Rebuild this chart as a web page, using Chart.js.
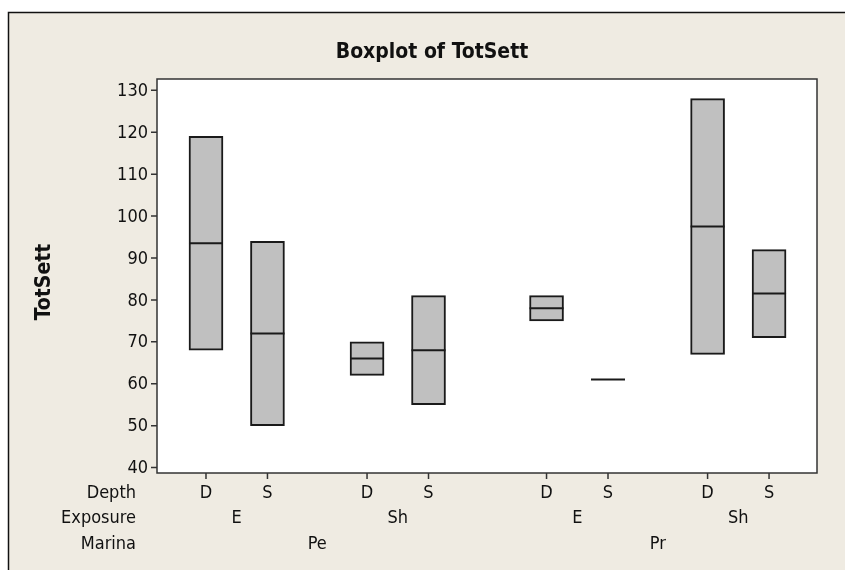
<!DOCTYPE html>
<html lang="en">
<head>
    <meta charset="UTF-8">
    <title>Boxplot of TotSett</title>
    <script src="https://cdn.jsdelivr.net/npm/chart.js"></script>
    <style>
        body { margin: 0; background: #fff; }
        #wrap { width: 845px; height: 570px; }
    </style>
</head>
<body>
    <div id="wrap"><canvas id="boxChart"></canvas></div>

    <script>
        // Grouping labels, one entry per box (left to right)
        const depth    = ['D', 'S', 'D', 'S', 'D', 'S', 'D', 'S'];
        const exposure = ['E', 'E', 'Sh', 'Sh', 'E', 'E', 'Sh', 'Sh'];
        const marina   = ['Pe', 'Pe', 'Pe', 'Pe', 'Pr', 'Pr', 'Pr', 'Pr'];

        // Box values
        const q1     = [68, 50, 62, 55, 75, 61, 67, 71];
        const median = [93.5, 72, 66, 68, 78, 61, 97.5, 81.5];
        const q3     = [119, 94, 70, 81, 81, 61, 128, 92];

        const yTicks = [40, 50, 60, 70, 80, 90, 100, 110, 120, 130];

        const FONT = "'DejaVu Sans Condensed', 'DejaVu Sans', sans-serif";
        const BG = '#EFEBE2';

        // Minitab leaves a wider gap between exposure groups and marinas
        const exposureGap = 0.62;
        const marinaGap = 0.3;
        function slot(i) {
            return i + exposureGap * Math.floor(i / 2) + marinaGap * Math.floor(i / 4);
        }

        const boxes = q1.map((v, i) => ({ x: slot(i), y: [v, q3[i]] }));
        const medians = median.map((v, i) => ({ x: slot(i), y: v }));

        // Frame, plot background, axes, ticks and labels
        const decor = {
            id: 'decor',
            beforeDraw(chart) {
                const { ctx, chartArea: a } = chart;
                ctx.save();
                ctx.fillStyle = '#fff';
                ctx.fillRect(0, 0, chart.width, chart.height);
                ctx.fillStyle = BG;
                ctx.fillRect(8, 12, chart.width, chart.height);
                ctx.strokeStyle = '#111';
                ctx.lineWidth = 1.5;
                ctx.beginPath();
                ctx.moveTo(8.5, chart.height);
                ctx.lineTo(8.5, 12.5);
                ctx.lineTo(chart.width, 12.5);
                ctx.stroke();
                ctx.fillStyle = '#fff';
                ctx.fillRect(a.left, a.top, a.right - a.left, a.bottom - a.top);
                ctx.restore();
            },
            afterDraw(chart) {
                const { ctx, chartArea: a } = chart;
                const xs = chart.scales.x, ys = chart.scales.y;
                ctx.save();
                ctx.strokeStyle = '#333';
                ctx.lineWidth = 1.5;
                ctx.strokeRect(a.left, a.top, a.right - a.left, a.bottom - a.top);

                // y ticks
                ctx.fillStyle = '#111';
                ctx.font = '18px ' + FONT;
                ctx.textAlign = 'right';
                ctx.textBaseline = 'middle';
                ctx.beginPath();
                yTicks.forEach(t => {
                    const y = ys.getPixelForValue(t);
                    ctx.moveTo(a.left - 6, y);
                    ctx.lineTo(a.left, y);
                    ctx.fillText(String(t), a.left - 9, y + 1);
                });
                // x ticks
                depth.forEach((d, i) => {
                    const x = xs.getPixelForValue(slot(i));
                    ctx.moveTo(x, a.bottom);
                    ctx.lineTo(x, a.bottom + 6);
                });
                ctx.stroke();

                // x label rows
                const rowY = [493, 518, 544];
                ctx.textAlign = 'right';
                ctx.fillText('Depth', 136, rowY[0]);
                ctx.fillText('Exposure', 136, rowY[1]);
                ctx.fillText('Marina', 136, rowY[2]);
                ctx.textAlign = 'center';
                depth.forEach((d, i) => {
                    ctx.fillText(d, xs.getPixelForValue(slot(i)), rowY[0]);
                });
                for (let i = 0; i < exposure.length; i += 2) {
                    const x = (xs.getPixelForValue(slot(i)) + xs.getPixelForValue(slot(i + 1))) / 2;
                    ctx.fillText(exposure[i], x, rowY[1]);
                }
                for (let i = 0; i < marina.length; i += 4) {
                    const x = (xs.getPixelForValue(slot(i)) + xs.getPixelForValue(slot(i + 3))) / 2;
                    ctx.fillText(marina[i], x, rowY[2]);
                }

                // titles
                ctx.font = 'bold 21px ' + FONT;
                ctx.fillText('Boxplot of TotSett', 432, 53);
                ctx.translate(45, 282);
                ctx.rotate(-Math.PI / 2);
                ctx.fillText('TotSett', 0, 0);
                ctx.restore();
            }
        };

        const ctx = document.getElementById('boxChart').getContext('2d');
        const boxChart = new Chart(ctx, {
            type: 'bar',
            data: {
                datasets: [{
                    data: boxes,
                    backgroundColor: '#C0C0C0',
                    borderColor: '#1a1a1a',
                    borderWidth: 2,
                    borderSkipped: false,
                    barThickness: 34,
                    order: 2
                }, {
                    type: 'scatter',
                    data: medians,
                    pointStyle: 'line',
                    radius: 17,
                    hoverRadius: 17,
                    borderColor: '#1a1a1a',
                    borderWidth: 2,
                    order: 1
                }]
            },
            options: {
                responsive: true,
                maintainAspectRatio: false,
                animation: false,
                layout: { padding: { left: 157, top: 79, right: 28, bottom: 97 } },
                plugins: { legend: { display: false }, tooltip: { enabled: false } },
                scales: {
                    x: { type: 'linear', display: false, offset: false, min: -0.797, max: 9.94 },
                    y: { display: false, min: 38.7, max: 132.7 }
                }
            },
            plugins: [decor]
        });
    </script>
</body>
</html>
